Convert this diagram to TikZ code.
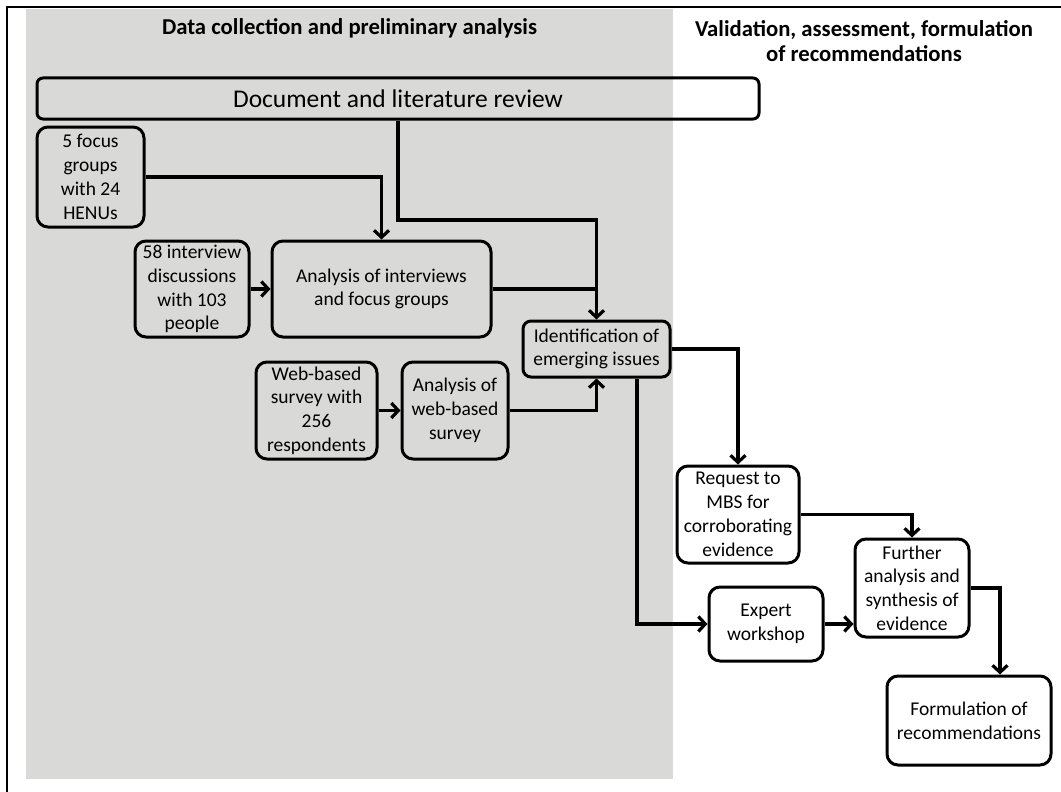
\documentclass[tikz,border=0pt]{standalone}
\usepackage{fontspec}
\setmainfont{Carlito}
\usetikzlibrary{arrows.meta}
\definecolor{panelgray}{RGB}{217,217,216}
\tikzset{
  box/.style={draw=black, line width=3pt, rounded corners=11pt, align=center, inner sep=1pt,
    font=\fontsize{19.5}{23.8}\selectfont},
  conn/.style={line width=3.2pt, -{Straight Barb[length=7pt,width=15pt]}},
  plainconn/.style={line width=3.2pt},
  heading/.style={font=\fontsize{22.7}{25}\selectfont\bfseries, align=center}
}
\begin{document}
\begin{tikzpicture}[x=1pt,y=-1pt]
\useasboundingbox (0,0) rectangle (1061,792);
\fill[panelgray] (26,9) rectangle (673,779);
\draw[line width=2.6pt] (7,792) -- (7,7) -- (1061,7);

\node[heading] (h1) at (349.5,28) {Data collection and preliminary analysis};
\node[heading] (h2) at (864,41) {Validation, assessment, formulation\\of recommendations};

\node[box, rounded corners=6pt, minimum width=722pt, minimum height=41pt, font=\fontsize{25.5}{29}\selectfont] (doc) at (398,98.5) {Document and literature review};
\node[box, minimum width=107pt, minimum height=100pt] (focus) at (90.5,177) {5 focus\\groups\\with 24\\HENUs};
\node[box, minimum width=114pt, minimum height=96pt] (interv) at (192,289) {58 interview\\discussions\\with 103\\people};
\node[box, minimum width=219pt, minimum height=96pt] (anaint) at (381.5,289) {Analysis of interviews\\and focus groups};
\node[box, rounded corners=8pt, minimum width=147pt, minimum height=56pt] (ident) at (596.5,349) {Identification of\\emerging issues};
\node[box, minimum width=121pt, minimum height=97pt] (web) at (316.5,410.5) {Web-based\\survey with\\256\\respondents};
\node[box, minimum width=106pt, minimum height=97pt] (anaweb) at (455,410.5) {Analysis of\\web-based\\survey};
\node[box, minimum width=122pt, minimum height=97pt] (req) at (738,514.5) {Request to\\MBS for\\corroborating\\evidence};
\node[box, minimum width=114pt, minimum height=98pt] (further) at (912,588) {Further\\analysis and\\synthesis of\\evidence};
\node[box, minimum width=114pt, minimum height=74pt] (expert) at (766,624) {Expert\\workshop};
\node[box, minimum width=164pt, minimum height=89pt] (form) at (969,720.5) {Formulation of\\recommendations};

\coordinate (j1) at (596.5,220);
\coordinate (j2) at (637,623);

\draw[conn] (focus.east) -| (anaint.north);
\draw[conn] (doc.south) |- (j1) -- (ident.north);
\draw[plainconn] (anaint.east) -- (anaint.east -| ident.north);
\draw[conn] (interv.east) -- (anaint.west);
\draw[conn] (web.east) -- (anaweb.west);
\draw[conn] (anaweb.east) -| (ident.south);
\draw[conn] (ident.east) -| (req.north);
\draw[conn] (req.east) -| (further.north);
\draw[conn] (ident.south -| j2) |- (expert.west);
\draw[conn] (expert.east) -- (expert.east -| further.west);
\draw[conn] (further.east) -| ([xshift=31pt]form.north);
\end{tikzpicture}
\end{document}
